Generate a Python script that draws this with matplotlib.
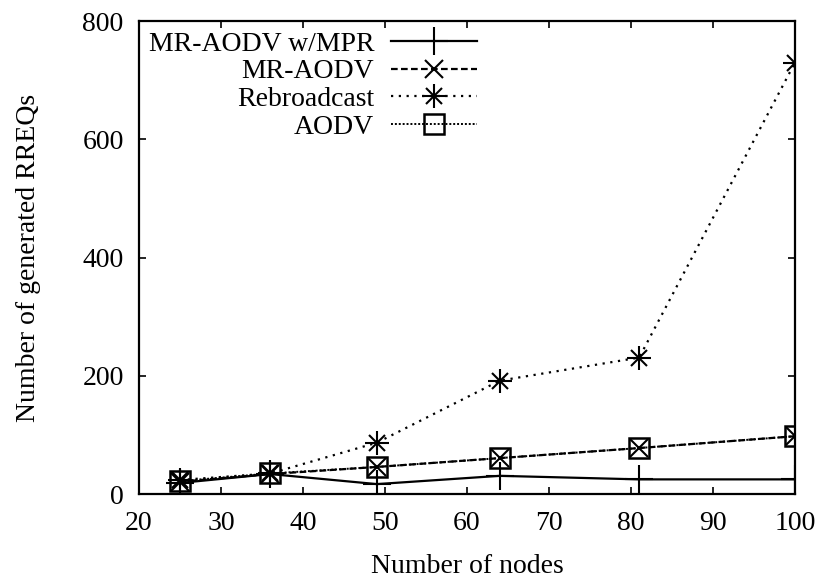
import matplotlib
matplotlib.use("Agg")
from matplotlib import pyplot as plt
from matplotlib.lines import Line2D

# nombre de noeuds et RREQ générés pour chaque protocole
noeuds = [25, 36, 49, 64, 81, 100]
mr_aodv_mpr = [19, 34, 17, 31, 25, 25]
mr_aodv = [21, 34, 46, 61, 78, 98]
rebroadcast = [24, 35, 87, 192, 231, 730]
aodv = [22, 35, 46, 61, 78, 98]
noms = ['MR-AODV w/MPR', 'MR-AODV', 'Rebroadcast', 'AODV']

plt.rcParams['font.family'] = ['Liberation Serif', 'DejaVu Serif']
plt.rcParams['font.size'] = 20

fig = plt.figure(figsize=(8.2, 5.8), dpi=100)
ax = fig.add_axes([0.1695, 0.148, 0.80, 0.8155])

l1, = ax.plot(noeuds, mr_aodv_mpr, color='black', lw=1.6, ls='-', marker='+',
              ms=20, mew=1.5)
l2, = ax.plot(noeuds, mr_aodv, color='black', lw=1.6, ls=(0, (3, 1.5)), marker='x',
              ms=13, mew=1.5)
# étoile de gnuplot : un + superposé à un x
ax.plot(noeuds, rebroadcast, color='black', lw=1.6, ls=(0, (1, 2.5)))
ax.plot(noeuds, rebroadcast, ls='none', marker='+', ms=17, mew=1.5, color='black')
ax.plot(noeuds, rebroadcast, ls='none', marker='x', ms=12, mew=1.5, color='black')
l4, = ax.plot(noeuds, aodv, color='black', lw=1.4, ls=(0, (1, 1)), marker='s',
              ms=14, mew=1.8, mfc='none')

etoile = (Line2D([], [], color='black', lw=1.6, ls=(0, (1, 2.5))),
          Line2D([], [], ls='none', marker='+', ms=17, mew=1.5, color='black'),
          Line2D([], [], ls='none', marker='x', ms=12, mew=1.5, color='black'))
ax.legend([l1, l2, etoile, l4], noms,
          loc='upper left', bbox_to_anchor=(-0.015, 1.02), frameon=False,
          markerfirst=False, handlelength=3.1, handletextpad=0.6,
          labelspacing=0.08, borderaxespad=0.3)

ax.set_xlim(20, 100)
ax.set_ylim(0, 800)
ax.set_xticks(range(20, 101, 10))
ax.set_yticks(range(0, 801, 200))
ax.tick_params(direction='in', top=True, right=True, length=5, width=1.2)
ax.tick_params(axis='x', pad=12)
ax.tick_params(axis='y', pad=11)
for s in ax.spines.values():
    s.set_linewidth(1.6)
ax.set_xlabel('Number of nodes', labelpad=13)
ax.set_ylabel('Number of generated RREQs', labelpad=30)

plt.savefig('out.png')
